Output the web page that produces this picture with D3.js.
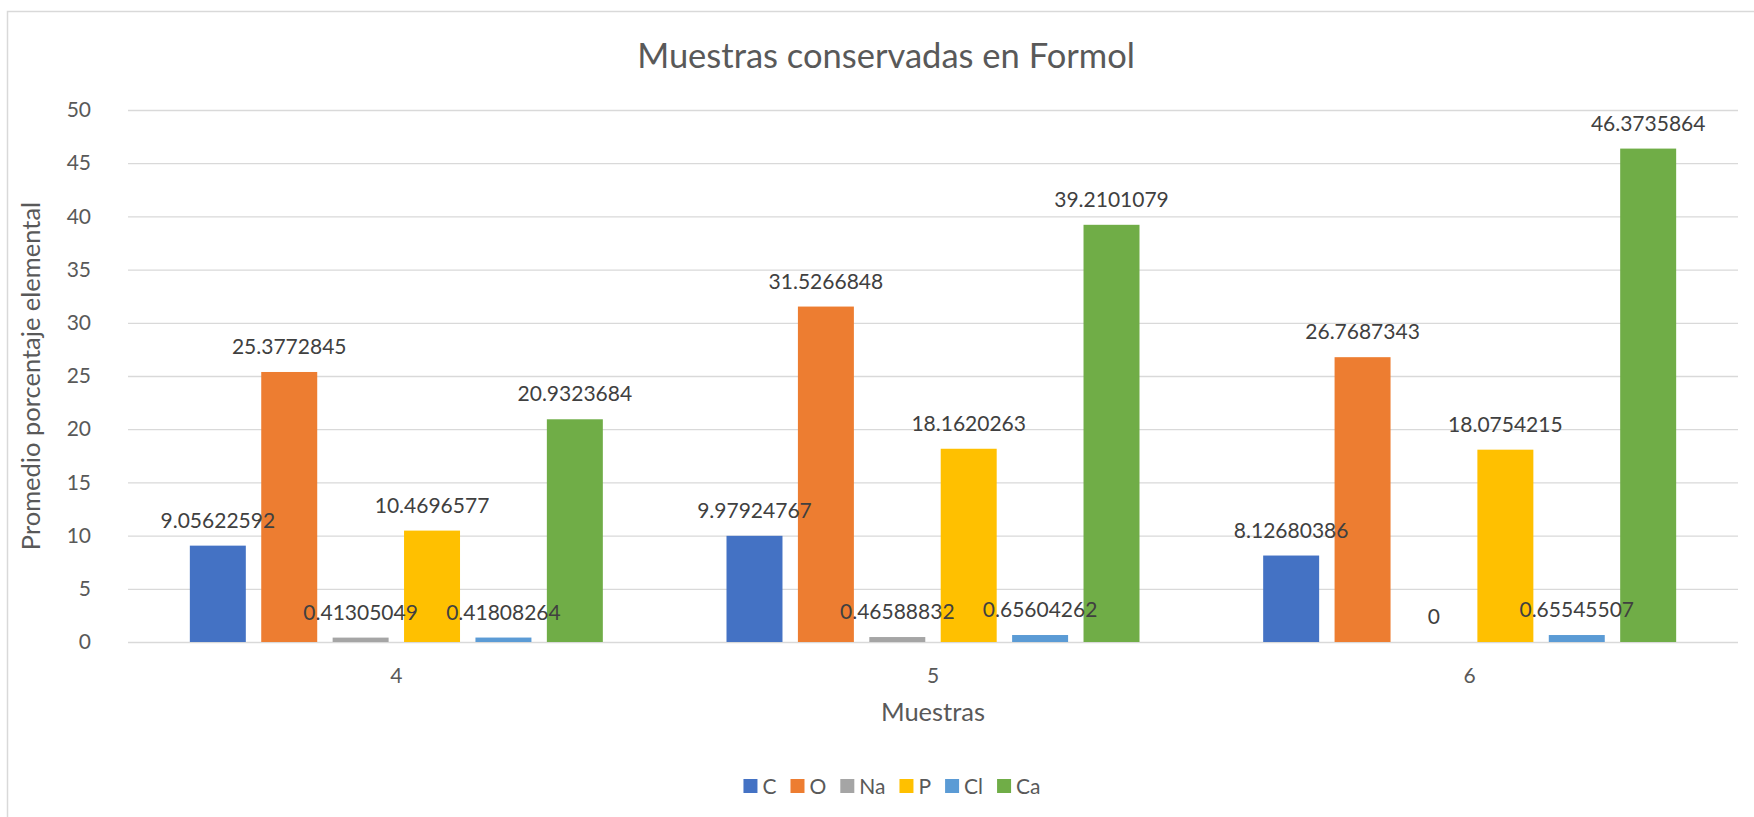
<!DOCTYPE html>
<html>
<head>
<meta charset="utf-8">
<script src="https://cdn.jsdelivr.net/npm/d3@7"></script>
<style>
body { margin: 0; background: #fff; }
text { font-family: Lato, "Open Sans", sans-serif; }
</style>
</head>
<body>
<svg id="chart"></svg>
<script>
// Muestras (x) - promedio porcentaje elemental (y)
var muestras = ['4', '5', '6']
var elementos = ['C', 'O', 'Na', 'P', 'Cl', 'Ca']
var valoresC = [9.05622592, 9.97924767, 8.12680386]
var valoresO = [25.3772845, 31.5266848, 26.7687343]
var valoresNa = [0.41305049, 0.46588832, 0]
var valoresP = [10.4696577, 18.1620263, 18.0754215]
var valoresCl = [0.41808264, 0.65604262, 0.65545507]
var valoresCa = [20.9323684, 39.2101079, 46.3735864]
var colores = ['#4472C4', '#ED7D31', '#A5A5A5', '#FFC000', '#5B9BD5', '#70AD47']
var yTicks = [0, 5, 10, 15, 20, 25, 30, 35, 40, 45, 50]

var width = 1754
var height = 817
var plotLeft = 128, plotRight = 1738, plotTop = 110, plotBottom = 642

var series = [valoresC, valoresO, valoresNa, valoresP, valoresCl, valoresCa]
var rows = []
muestras.forEach((m, i) => {
  elementos.forEach((e, j) => {
    rows.push({ muestra: m, elemento: e, valor: series[j][i], color: colores[j] })
  })
})

var svg = d3.select('#chart')
            .attr('width', width)
            .attr('height', height)

// chart frame (cut off at right and bottom in the original)
svg.append('rect')
   .attr('x', 7.5).attr('y', 11.5)
   .attr('width', 1770).attr('height', 830)
   .attr('fill', 'none')
   .attr('stroke', '#D9D9D9')
   .attr('stroke-width', 1.5)

var x0 = d3.scaleBand()
           .domain(muestras)
           .range([plotLeft, plotRight])

var x1 = d3.scaleBand()
           .domain(elementos)
           .range([0, x0.bandwidth()])
           .paddingInner(0.216)
           .paddingOuter(0.866)

var yScale = d3.scaleLinear()
               .domain([0, 50])
               .range([plotBottom, plotTop])

// y axis + gridlines
var yAxis = svg.append('g')
   .attr('transform', 'translate(' + plotLeft + ',0)')
   .call(d3.axisLeft(yScale).tickValues(yTicks).tickSize(-(plotRight - plotLeft)).tickPadding(37))
yAxis.select('.domain').remove()
yAxis.selectAll('line').attr('stroke', '#D9D9D9').attr('stroke-width', 1.3)
yAxis.selectAll('text')
     .attr('fill', '#595959')
     .style('font-size', '21px')

// x axis labels
var xAxis = svg.append('g')
   .attr('transform', 'translate(0,' + plotBottom + ')')
   .call(d3.axisBottom(x0).tickSize(0))
xAxis.select('.domain').remove()
xAxis.selectAll('text')
     .attr('y', 41).attr('dy', null)
     .attr('fill', '#595959')
     .style('font-size', '21px')

// bars first, labels after so no bar covers a label
svg.selectAll('.bar')
   .data(rows)
   .enter()
   .append('rect')
     .classed('bar', true)
     .attr('x', d => x0(d.muestra) + x1(d.elemento))
     .attr('y', d => yScale(d.valor))
     .attr('width', x1.bandwidth())
     .attr('height', d => plotBottom - yScale(d.valor))
     .attr('fill', d => d.color)

svg.selectAll('.etiqueta')
   .data(rows)
   .enter()
   .append('text')
     .classed('etiqueta', true)
     .text(d => String(d.valor))
     .attr('x', d => x0(d.muestra) + x1(d.elemento) + x1.bandwidth() / 2)
     .attr('y', d => yScale(d.valor) - 18)
     .attr('text-anchor', 'middle')
     .attr('fill', '#404040')
     .style('font-size', '21px')

// titles
svg.append('text')
   .text('Muestras conservadas en Formol')
   .attr('x', 886).attr('y', 68)
   .attr('text-anchor', 'middle')
   .attr('fill', '#595959')
   .style('font-size', '34.5px')

svg.append('text')
   .text('Promedio porcentaje elemental')
   .attr('transform', 'translate(40,' + ((plotTop + plotBottom) / 2) + ') rotate(-90)')
   .attr('text-anchor', 'middle')
   .attr('fill', '#595959')
   .style('font-size', '25.5px')

svg.append('text')
   .text('Muestras')
   .attr('x', (plotLeft + plotRight) / 2).attr('y', 721)
   .attr('text-anchor', 'middle')
   .attr('fill', '#595959')
   .style('font-size', '25.5px')

// legend
var legend = svg.append('g')
var lx = 0
elementos.forEach((e, j) => {
  var item = legend.append('g').attr('transform', 'translate(' + lx + ',0)')
  item.append('rect')
      .attr('x', 0).attr('y', -7)
      .attr('width', 14).attr('height', 14)
      .attr('fill', colores[j])
  var t = item.append('text')
      .text(e)
      .attr('x', 19).attr('y', 7.5)
      .attr('fill', '#595959')
      .style('font-size', '21px')
  lx += 19 + t.node().getComputedTextLength() + 14
})
lx -= 14
legend.attr('transform', 'translate(' + (892 - lx / 2) + ',786)')
</script>
</body>
</html>
